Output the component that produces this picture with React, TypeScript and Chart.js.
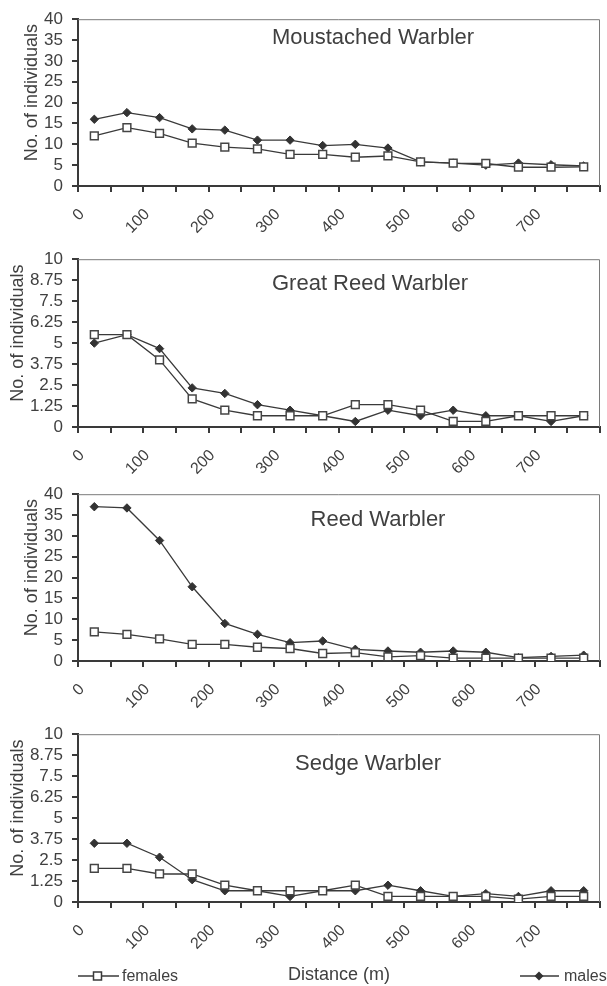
import React, { useEffect, useRef } from 'react';
import { Chart, registerables } from 'chart.js';

Chart.register(...registerables);

// ---------- data ----------
const distances = [25, 75, 125, 175, 225, 275, 325, 375, 425, 475, 525, 575, 625, 675, 725, 775];
const xTickValues = [0, 100, 200, 300, 400, 500, 600, 700];

const moustachedFemales = [12.0, 14.0, 12.6, 10.3, 9.3, 8.9, 7.6, 7.6, 6.9, 7.2, 5.8, 5.5, 5.4, 4.5, 4.5, 4.6];
const moustachedMales = [16.0, 17.6, 16.4, 13.7, 13.4, 11.0, 11.0, 9.7, 10.0, 9.1, 5.8, 5.5, 5.0, 5.5, 5.1, 4.8];

const greatReedFemales = [5.5, 5.5, 4.0, 1.67, 1.0, 0.67, 0.67, 0.67, 1.33, 1.33, 1.0, 0.33, 0.33, 0.67, 0.67, 0.67];
const greatReedMales = [5.0, 5.5, 4.67, 2.33, 2.0, 1.33, 1.0, 0.67, 0.33, 1.0, 0.67, 1.0, 0.67, 0.67, 0.33, 0.67];

const reedFemales = [7.0, 6.4, 5.3, 4.0, 4.0, 3.3, 3.0, 1.8, 2.0, 1.0, 1.3, 0.7, 0.7, 0.7, 0.7, 0.7];
const reedMales = [37.0, 36.7, 28.9, 17.8, 9.0, 6.4, 4.4, 4.8, 2.8, 2.4, 2.1, 2.4, 2.1, 0.8, 1.1, 1.4];

const sedgeFemales = [2.0, 2.0, 1.67, 1.67, 1.0, 0.67, 0.67, 0.67, 1.0, 0.33, 0.33, 0.33, 0.33, 0.17, 0.33, 0.33];
const sedgeMales = [3.5, 3.5, 2.67, 1.33, 0.67, 0.67, 0.33, 0.67, 0.67, 1.0, 0.67, 0.33, 0.5, 0.33, 0.67, 0.67];

const speciesTitles = ['Moustached Warbler', 'Great Reed Warbler', 'Reed Warbler', 'Sedge Warbler'];
const yMaxes = [40, 10, 40, 10];
const ySteps = [5, 1.25, 5, 1.25];
const yAxisTitle = 'No. of individuals';
const xAxisTitle = 'Distance (m)';
const legendLabels = ['females', 'males'];

// ---------- layout / style ----------
const FONT = '"Liberation Sans", Arial, Helvetica, sans-serif';
const TEXT = '#404040';
const LINE = '#3a3a3a';
const W = 607;

const panelLayout = [
  { top: 0, height: 240, padTop: 19, axisH: 54, titleX: 373, titleDy: 19, yTitleX: 32.5 },
  { top: 240, height: 235, padTop: 17, axisH: 48, titleX: 370, titleDy: 25, yTitleX: 18.5 },
  { top: 475, height: 240, padTop: 19, axisH: 54, titleX: 378, titleDy: 26, yTitleX: 32.5 },
  { top: 715, height: 271, padTop: 17, axisH: 84, titleX: 368, titleDy: 30, yTitleX: 18.5 },
];

const panelData = [
  [moustachedFemales, moustachedMales],
  [greatReedFemales, greatReedMales],
  [reedFemales, reedMales],
  [sedgeFemales, sedgeMales],
];

function Panel({ idx }: { idx: number }) {
  const ref = useRef<HTMLCanvasElement | null>(null);
  useEffect(() => {
    const canvas = ref.current;
    if (!canvas) return;
    const lay = panelLayout[idx];
    const [fem, mal] = panelData[idx];
    const isLast = idx === panelLayout.length - 1;

    const decor = {
      id: 'decor' + idx,
      afterDraw(chart: any) {
        const { ctx, chartArea: a } = chart;
        ctx.save();
        // top and right frame
        ctx.strokeStyle = '#7a7a7a';
        ctx.lineWidth = 1;
        ctx.beginPath();
        ctx.moveTo(a.left, a.top + 0.5);
        ctx.lineTo(a.right - 0.5, a.top + 0.5);
        ctx.lineTo(a.right - 0.5, a.bottom);
        ctx.stroke();
        // panel title
        ctx.fillStyle = TEXT;
        ctx.font = `22px ${FONT}`;
        ctx.textAlign = 'center';
        ctx.textBaseline = 'middle';
        ctx.fillText(speciesTitles[idx], lay.titleX, a.top + lay.titleDy);
        // y axis title
        ctx.save();
        ctx.translate(lay.yTitleX, (a.top + a.bottom) / 2 - 10);
        ctx.rotate(-Math.PI / 2);
        ctx.font = `18px ${FONT}`;
        ctx.fillText(yAxisTitle, 0, 0);
        ctx.restore();
        if (isLast) {
          const y = chart.height - 10;
          ctx.font = `16px ${FONT}`;
          ctx.textAlign = 'left';
          ctx.strokeStyle = LINE;
          ctx.lineWidth = 1.3;
          // females
          ctx.beginPath();
          ctx.moveTo(78, y);
          ctx.lineTo(119, y);
          ctx.stroke();
          ctx.fillStyle = '#ffffff';
          ctx.lineWidth = 1.5;
          ctx.beginPath();
          ctx.rect(97.5 - 4, y - 4, 8, 8);
          ctx.fill();
          ctx.stroke();
          ctx.fillStyle = TEXT;
          ctx.fillText(legendLabels[0], 122, y + 1);
          // males
          ctx.lineWidth = 1.3;
          ctx.beginPath();
          ctx.moveTo(520, y);
          ctx.lineTo(559, y);
          ctx.stroke();
          ctx.fillStyle = '#333333';
          ctx.beginPath();
          ctx.moveTo(539, y - 4.5);
          ctx.lineTo(543.5, y);
          ctx.lineTo(539, y + 4.5);
          ctx.lineTo(534.5, y);
          ctx.closePath();
          ctx.fill();
          ctx.fillStyle = TEXT;
          ctx.fillText(legendLabels[1], 564, y + 1);
        }
        ctx.restore();
      },
    };

    const chart = new Chart(canvas, {
      type: 'line',
      data: {
        datasets: [
          {
            label: legendLabels[0],
            data: distances.map((d, i) => ({ x: d, y: fem[i] })),
            borderColor: LINE,
            borderWidth: 1.3,
            pointStyle: 'rect',
            pointRadius: 5.5,
            pointBackgroundColor: '#ffffff',
            pointBorderColor: '#454545',
            pointBorderWidth: 1.5,
            tension: 0,
          },
          {
            label: legendLabels[1],
            data: distances.map((d, i) => ({ x: d, y: mal[i] })),
            borderColor: LINE,
            borderWidth: 1.3,
            pointStyle: 'rectRot',
            pointRadius: 4.2,
            pointBackgroundColor: '#333333',
            pointBorderColor: '#333333',
            pointBorderWidth: 1,
            tension: 0,
          },
        ],
      },
      options: {
        animation: false,
        responsive: true,
        maintainAspectRatio: false,
        devicePixelRatio: 1,
        layout: { padding: { top: lay.padTop, right: 1, bottom: 0, left: 0 } },
        plugins: { legend: { display: false }, tooltip: { enabled: false }, title: { display: false } },
        scales: {
          x: {
            type: 'linear',
            min: 0,
            max: 800,
            afterFit: (s: any) => {
              s.height = lay.axisH;
              s.paddingRight = 0;
              s.paddingLeft = 0;
            },
            afterBuildTicks: (s: any) => {
              const t = [];
              for (let v = 0; v <= 800; v += 50) t.push({ value: v });
              s.ticks = t;
            },
            ticks: {
              autoSkip: false,
              minRotation: 45,
              maxRotation: 45,
              padding: 13,
              labelOffset: 4,
              color: TEXT,
              font: { family: FONT, size: 16 },
              callback: (v: any) => (xTickValues.includes(Number(v)) ? String(v) : ''),
            },
            grid: {
              drawOnChartArea: false,
              drawTicks: true,
              tickLength: 6,
              tickColor: LINE,
              lineWidth: 2,
            },
            border: { display: true, color: LINE, width: 2 },
            title: {
              display: isLast,
              text: xAxisTitle,
              color: TEXT,
              font: { family: FONT, size: 18 },
              padding: { top: 0, bottom: 0 },
            },
          },
          y: {
            min: 0,
            max: yMaxes[idx],
            afterFit: (s: any) => {
              s.width = 78;
            },
            ticks: {
              autoSkip: false,
              stepSize: ySteps[idx],
              padding: 9,
              color: TEXT,
              font: { family: FONT, size: 17 },
              callback: (v: any) => String(v),
            },
            grid: {
              drawOnChartArea: false,
              drawTicks: true,
              tickLength: 6,
              tickColor: LINE,
              lineWidth: 2,
            },
            border: { display: true, color: LINE, width: 2 },
          },
        },
      },
      plugins: [decor],
    });
    return () => chart.destroy();
  }, [idx]);

  const lay = panelLayout[idx];
  return (
    <div style={{ position: 'absolute', left: 0, top: lay.top, width: W, height: lay.height }}>
      <canvas ref={ref} />
    </div>
  );
}

export default function App() {
  return (
    <div style={{ position: 'absolute', left: 0, top: 0, width: W, height: 986, background: '#ffffff' }}>
      {panelLayout.map((_, i) => (
        <Panel key={i} idx={i} />
      ))}
    </div>
  );
}
